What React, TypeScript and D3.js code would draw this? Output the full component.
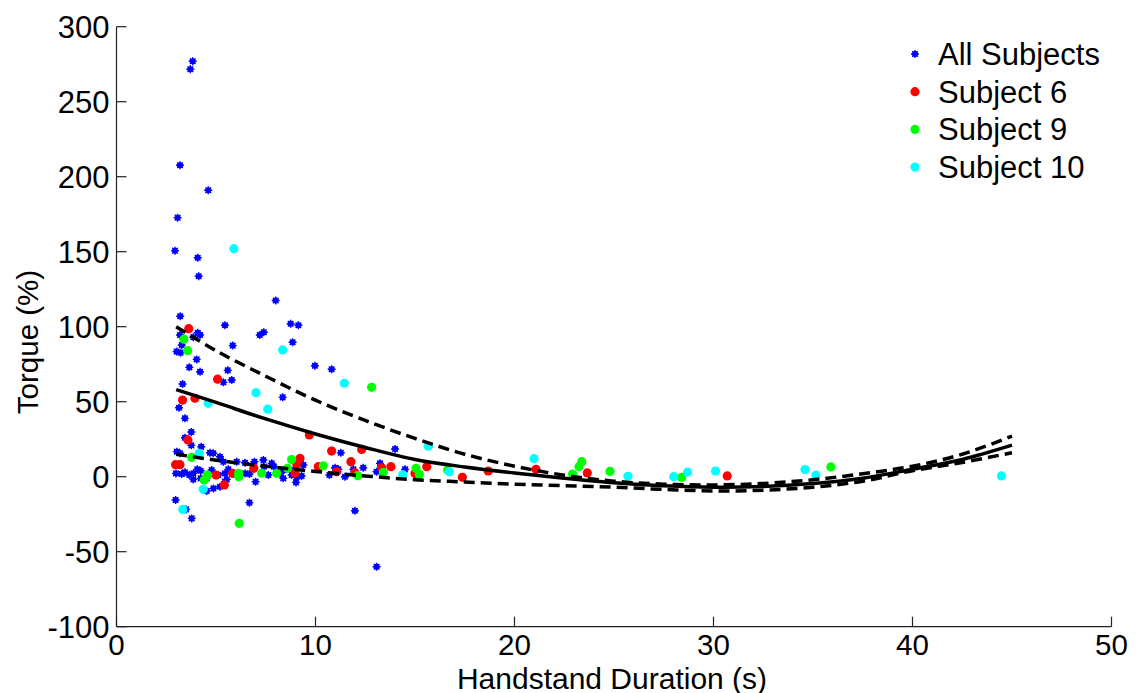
import React from "react";
import * as d3 from "d3";

// scatter: [duration (s), torque (%)]
const allSubjects: [number, number][] = [
  [3.83, 277], [3.71, 271.6], [3.19, 207.6], [4.61, 191], [3.07, 172.7], [2.94, 150.7],
  [4.08, 146], [4.13, 133.6], [8.0, 117.5], [3.2, 107], [5.45, 101], [4.08, 96], [4.2, 94.5],
  [3.86, 93], [7.2, 94.5], [7.4, 96.3], [8.75, 102], [9.14, 101], [3.19, 94.5], [3.28, 87.8],
  [3.02, 83.4], [3.22, 82.7], [5.84, 87.4], [8.85, 89.6], [4.03, 78.2], [3.66, 72.9], [4.2, 70],
  [5.59, 70.9], [5.37, 62.9], [5.79, 64.5], [3.32, 61.8], [8.35, 52.9], [3.14, 46], [3.44, 38.9],
  [3.76, 29.8], [3.44, 26], [3.76, 20.9], [4.26, 20], [3.03, 16.7], [3.19, 15.6], [4.7, 16],
  [4.86, 15.6], [5.2, 13.3], [5.37, 10], [6.04, 10], [6.46, 9.3], [6.93, 10], [7.38, 11.1],
  [7.41, 6.7], [7.8, 8.9], [7.91, 6.7], [8.42, 4.5], [8.38, -1.1],
  [2.99, 2.2], [3.28, 1.8], [3.44, 2.9], [3.66, 1.1], [3.86, 2.2], [4.06, 4.9], [4.23, 4.0],
  [4.78, 4.5], [5.12, 1.1], [5.45, 2.2], [5.62, 4.9], [6.46, 2.2], [6.68, 1.8], [7.63, 1.1],
  [8.22, 2.2], [8.8, 1.1], [9.05, -0.4], [4.23, -1.1], [3.86, -1.8], [4.53, -1.1], [5.45, -3.3],
  [5.54, -1.8], [6.99, -3.3], [4.53, -9.5], [5.2, -6.7], [4.87, -7.8],
  [9.97, 74], [10.81, 71.6], [11.27, 16], [14.0, 18.5], [9.39, 7.8], [10.98, 6], [11.15, 4.9],
  [11.48, 0], [11.9, 4.9], [12.4, 6], [13.24, 8.9], [13.27, 4.5], [13.07, 3.3], [14.5, 4.9],
  [8.89, 4.5], [9.3, 0.5], [9.02, -3.8], [10.7, 1.1],
  [2.97, -15.5], [3.49, -21.8], [3.78, -27.8], [6.68, -17.3], [11.98, -22.7], [13.07, -60],
];

const subject6: [number, number][] = [
  [3.63, 98.7], [5.08, 65], [3.32, 51.1], [3.94, 52.3], [3.59, 24.5], [2.97, 8], [3.19, 8],
  [9.69, 27.8], [5.0, 1.1], [5.42, -5.5], [5.84, 2.2], [6.9, 5.6], [9.06, 8.4], [8.97, 2.3],
  [9.22, 12.2], [10.14, 6.7], [10.81, 17.1], [12.32, 18.2], [11.78, 10], [11.06, 3.3],
  [11.98, 2.7], [13.32, 6], [13.79, 6.7], [15.0, 2.2], [15.59, 6.7], [17.38, -0.4],
  [18.68, 3.8], [21.08, 4.9], [23.66, 2.5], [30.69, 0.5],
];

const subject9: [number, number][] = [
  [3.39, 91.7], [3.58, 84], [3.78, 12.9], [4.58, 1.1], [4.41, -2.2], [6.14, 2.3], [6.14, 0],
  [7.3, 2.3], [8.05, 2.3], [8.6, 5.6], [8.8, 11.4], [10.39, 7.3], [12.12, 0.7], [12.82, 59.6],
  [13.41, 2.9], [15.05, 5.6], [15.22, 1.6], [16.64, 4.5], [6.17, -31.1], [22.92, 1.8],
  [23.24, 6.7], [23.38, 10], [24.8, 3.5], [28.4, -0.5], [35.9, 6.5],
];

const subject10: [number, number][] = [
  [5.9, 152], [8.35, 84.5], [7.01, 56], [7.6, 45], [4.61, 48.9], [11.45, 62.3], [4.16, 15.6],
  [4.36, -8.4], [3.33, -21.8], [14.38, 1.3], [15.67, 20.3], [16.72, 3.3], [20.98, 12],
  [25.7, 0.3], [28.0, 0], [28.7, 3], [30.1, 3.8], [34.6, 4.8], [35.15, 1], [44.47, 0.5],
];

// fitted curve and its bounds
const fitX = [3, 5, 7.5, 10, 12.5, 15, 17.5, 20, 22.5, 25, 27.5, 30, 32.5, 35, 37.5, 40, 42.5, 45];
const fitMid = [58, 49.5, 38.5, 28.5, 19.5, 11.5, 6.5, 2.5, -1, -4, -6, -7, -6.5, -4.5, -1, 5, 11.5, 21];
const fitUpper = [100, 84, 67, 51, 37.5, 25.5, 15, 7, 1, -3, -5, -5.5, -4.5, -2, 2, 7, 15, 27];
const fitLower = [15, 11, 7, 3.5, 0.5, -2, -3.5, -5, -6, -7, -8.5, -9.5, -9, -7, -3, 4, 9.5, 16];

const xTicks = [0, 10, 20, 30, 40, 50];
const yTicks = [-100, -50, 0, 50, 100, 150, 200, 250, 300];

const legendNames = ["All Subjects", "Subject 6", "Subject 9", "Subject 10"];
const legendColors = ["#0000ff", "#ff0000", "#00ff00", "#00ffff"];

const W = 1138;
const H = 693;
const m = { left: 116.5, right: 1111.5, top: 26.7, bottom: 626.7 };
const FONT = "'Liberation Sans', Arial, Helvetica, sans-serif";

export default function App() {
  const x = d3.scaleLinear().domain([0, 50]).range([m.left, m.right]);
  const y = d3.scaleLinear().domain([-100, 300]).range([m.bottom, m.top]);

  const line = d3
    .line<number>()
    .x((_, i) => x(fitX[i]))
    .y((d) => y(d))
    .curve(d3.curveCatmullRom);

  const star = (cx: number, cy: number, key: string, color: string) => (
    <g key={key} transform={`translate(${cx},${cy})`}>
      <circle r={3} fill={color} />
      <path d="M-4,0H4M0,-4V4M-2.8,-2.8L2.8,2.8M-2.8,2.8L2.8,-2.8" stroke={color} strokeWidth={1.4} />
    </g>
  );

  const dots = (data: [number, number][], color: string, name: string) =>
    data.map((d, i) => (
      <circle key={name + i} cx={x(d[0])} cy={y(d[1])} r={4.6} fill={color} />
    ));

  return (
    <svg width={W} height={H} style={{ position: "absolute", left: 0, top: 0, background: "#fff" }} fontFamily={FONT}>
      <rect width={W} height={H} fill="#fff" />

      {/* scatter */}
      <g>{allSubjects.map((d, i) => star(x(d[0]), y(d[1]), "a" + i, legendColors[0]))}</g>
      <g>{dots(subject6, legendColors[1], "s6")}</g>
      <g>{dots(subject9, legendColors[2], "s9")}</g>
      <g>{dots(subject10, legendColors[3], "s10")}</g>

      {/* fit lines */}
      <path d={line(fitUpper) || ""} fill="none" stroke="#000" strokeWidth={3.5} strokeDasharray="11,6" />
      <path d={line(fitLower) || ""} fill="none" stroke="#000" strokeWidth={3.5} strokeDasharray="11,6" />
      <path d={line(fitMid) || ""} fill="none" stroke="#000" strokeWidth={3.5} />

      {/* axes */}
      <line x1={m.left} x2={m.left} y1={m.top} y2={m.bottom} stroke="#222" strokeWidth={1.2} />
      <line x1={m.left} x2={m.right} y1={m.bottom} y2={m.bottom} stroke="#222" strokeWidth={1.2} />
      {yTicks.map((t) => (
        <g key={"y" + t}>
          <line x1={m.left} x2={m.left + 10} y1={y(t)} y2={y(t)} stroke="#222" strokeWidth={1.2} />
          <text x={m.left - 7} y={y(t) + 11} textAnchor="end" fontSize={31} fill="#000">
            {t}
          </text>
        </g>
      ))}
      {xTicks.map((t) => (
        <g key={"x" + t}>
          <line x1={x(t)} x2={x(t)} y1={m.bottom} y2={m.bottom - 10} stroke="#222" strokeWidth={1.2} />
          <text x={x(t)} y={655} textAnchor="middle" fontSize={29.5} fill="#000">
            {t}
          </text>
        </g>
      ))}

      <text x={(m.left + m.right) / 2 - 2} y={688.5} textAnchor="middle" fontSize={30} fill="#000">
        Handstand Duration (s)
      </text>
      <text transform="translate(38,342) rotate(-90)" textAnchor="middle" fontSize={29.5} fill="#000">
        Torque (%)
      </text>

      {/* legend */}
      {legendNames.map((n, i) => {
        const ly = 54 + i * 37.7;
        return (
          <g key={n}>
            {i === 0 ? star(915, ly, "l0", legendColors[0]) : <circle cx={915} cy={ly} r={4.6} fill={legendColors[i]} />}
            <text x={938} y={ly + 11} fontSize={31} fill="#000">
              {n}
            </text>
          </g>
        );
      })}
    </svg>
  );
}
